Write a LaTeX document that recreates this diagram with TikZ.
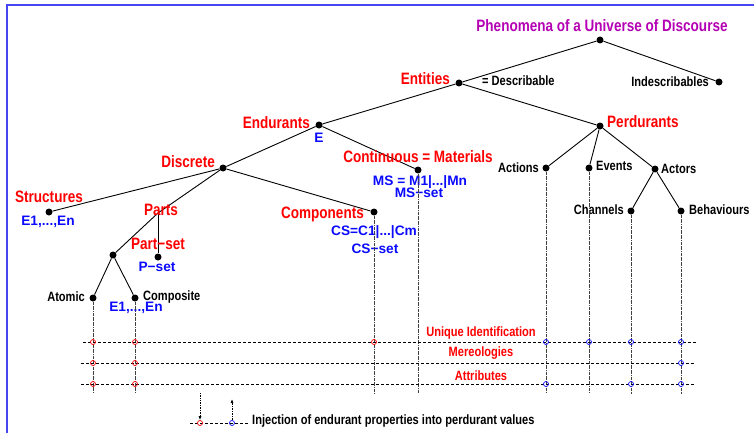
\documentclass[tikz,border=0pt]{standalone}
\usepackage{fontspec}
\setmainfont{Liberation Sans}[FakeStretch=0.82]
\newfontfamily\widesans{Liberation Sans}
\usetikzlibrary{arrows.meta}

\definecolor{phenmag}{RGB}{180,0,180}
\definecolor{endred}{RGB}{255,0,0}
\definecolor{valblue}{RGB}{10,10,255}
\definecolor{framebl}{RGB}{70,70,240}

\begin{document}
\begin{tikzpicture}[x=1pt, y=-1pt,
	dot/.style={circle, fill=black, inner sep=0pt, minimum size=7pt},
	edge/.style={line width=0.9pt},
	big/.style={inner sep=0pt, font=\fontsize{16.5}{18}\selectfont\bfseries},
	small/.style={inner sep=0pt, font=\fontsize{13.5}{15}\selectfont\bfseries},
	val/.style={inner sep=0pt, text=valblue, font=\widesans\fontsize{13.7}{15}\selectfont\bfseries},
	drop/.style={densely dash dot, black!75, line width=0.6pt},
	row/.style={dash pattern=on 3pt off 2pt, line width=0.7pt},
	inred/.style={draw=endred, line width=0.7pt},
	inblue/.style={draw=valblue, line width=0.7pt}]

		\useasboundingbox (0,0) rectangle (754,433);
		\draw[framebl, line width=1.2pt] (7,440) -- (7,5) -- (760,5);

		% tree points
		\node[dot] (root) at (600,40) {};
		\node[dot] (ent) at (459,83) {};
		\node[dot] (indes) at (719,82) {};
		\node[dot] (endu) at (319,125) {};
		\node[dot] (perdu) at (600,126) {};
		\node[dot] (disc) at (223,168) {};
		\node[dot] (cont) at (418,170) {};
		\node[dot] (struct) at (49,212) {};
		\coordinate (parts) at (158,213);
		\node[dot] (pset) at (158,257) {};
		\node[dot] (split) at (113,255) {};
		\node[dot] (atomic) at (93,298) {};
		\node[dot] (compo) at (135,298) {};
		\node[dot] (comp) at (374,212) {};
		\node[dot] (actions) at (546,168) {};
		\node[dot] (events) at (589,168) {};
		\node[dot] (actors) at (655,169) {};
		\node[dot] (chan) at (631,211) {};
		\node[dot] (behav) at (681,211) {};

		\draw[edge] (root) -- (ent);
		\draw[edge] (root) -- (indes);
		\draw[edge] (ent) -- (endu);
		\draw[edge] (ent) -- (perdu);
		\draw[edge] (endu) -- (disc);
		\draw[edge] (endu) -- (cont);
		\draw[edge] (disc) -- (struct);
		\draw[edge] (disc) -- (parts);
		\draw[edge] (disc) -- (comp);
		\draw[edge] (parts) -- (pset);
		\draw[edge] (parts) -- (split);
		\draw[edge] (split) -- (atomic);
		\draw[edge] (split) -- (compo);
		\draw[edge] (perdu) -- (actions);
		\draw[edge] (perdu) -- (events);
		\draw[edge] (perdu) -- (actors);
		\draw[edge] (actors) -- (chan);
		\draw[edge] (actors) -- (behav);

		% labels
		\node[big, text=phenmag] (root-l) at (602,26) {Phenomena of a Universe of Discourse};
		\node[big, text=endred, anchor=east] (ent-l) at (450,79) {Entities};
		\node[small, anchor=west] (ent-d) at (482,81) {= Describable};
		\node[small, anchor=east] (indes-l) at (709,82) {Indescribables};
		\node[big, text=endred, anchor=east] (endu-l) at (310,123) {Endurants};
		\node[val] (endu-v) at (319,138) {E};
		\node[big, text=endred, anchor=west] (perdu-l) at (607,122) {Perdurants};
		\node[big, text=endred, anchor=east] (disc-l) at (215,162) {Discrete};
		\node[big, text=endred] (cont-l) at (418,157) {Continuous = Materials};
		\node[val] (cont-v) at (420,182) {MS = M1|...|Mn};
		\node[val] (cont-s) at (419,193) {MS−set};
		\node[big, text=endred] (struct-l) at (49,197) {Structures};
		\node[val] (struct-v) at (48,222) {E1,...,En};
		\node[big, text=endred] (parts-l) at (161,210) {Parts};
		\node[big, text=endred] (pset-l) at (158,244) {Part−set};
		\node[val] (pset-v) at (157,267) {P−set};
		\node[small, anchor=east] (atomic-l) at (85,297) {Atomic};
		\node[small, anchor=west] (compo-l) at (143,297) {Composite};
		\node[val] (compo-v) at (136,308) {E1,...,En};
		\node[big, text=endred, anchor=east] (comp-l) at (364,214) {Components};
		\node[val] (comp-v) at (374,232) {CS=C1|...|Cm};
		\node[val] (comp-s) at (375,249) {CS−set};
		\node[small, anchor=east] (actions-l) at (539,168) {Actions};
		\node[small, anchor=west] (events-l) at (596,166) {Events};
		\node[small, anchor=west] (actors-l) at (661,169) {Actors};
		\node[small, anchor=east] (chan-l) at (624,210) {Channels};
		\node[small, anchor=west] (behav-l) at (689,210) {Behaviours};

		% property rows
		\coordinate (ui-a) at (83,342);
		\coordinate (ui-b) at (697,342);
		\coordinate (mer-a) at (81,363);
		\coordinate (mer-b) at (695,363);
		\coordinate (att-a) at (81,384);
		\coordinate (att-b) at (695,384);
		\coordinate (floor) at (0,393);

		\foreach \n in {atomic, compo, comp, cont, actions, events, chan, behav}
			\draw[drop] (\n) -- (\n |- floor);

		\draw[row] (ui-a) -- (ui-b);
		\draw[row] (mer-a) -- (mer-b);
		\draw[row] (att-a) -- (att-b);

		\node[small, text=endred] (ui-l) at (481,333) {Unique Identification};
		\node[small, text=endred] (mer-l) at (481,353) {Mereologies};
		\node[small, text=endred] (att-l) at (481,376) {Attributes};

		\foreach \n/\r in {atomic/ui-a, atomic/mer-a, atomic/att-a, compo/ui-a, compo/mer-a, compo/att-a, comp/ui-a}
			\draw[inred] (\n |- \r) circle (2.5pt);
		\foreach \n/\r in {actions/ui-a, actions/att-a, events/ui-a, chan/ui-a, chan/att-a, behav/ui-a, behav/mer-a, behav/att-a}
			\draw[inblue] (\n |- \r) circle (2.5pt);

		% legend
		\coordinate (leg-a) at (190,423);
		\coordinate (leg-b) at (248,423);
		\coordinate (leg-rt) at (200,393);
		\coordinate (leg-bt) at (232,399);
		\draw[row] (leg-a) -- (leg-b);
		\node[circle, inred, inner sep=0pt, minimum size=5pt] (leg-r) at (200,423) {};
		\node[circle, inblue, inner sep=0pt, minimum size=5pt] (leg-bl) at (232,423) {};
		\draw[densely dotted, line width=0.7pt, -{Latex[length=4pt, width=3pt]}] (leg-rt) -- (leg-r);
		\draw[densely dotted, line width=0.7pt, -{Latex[length=4pt, width=3pt]}] (leg-bl) -- (leg-bt);
		\node[small, anchor=west] (leg-l) at (252,421) {Injection of endurant properties into perdurant values};

	\end{tikzpicture}
\end{document}
